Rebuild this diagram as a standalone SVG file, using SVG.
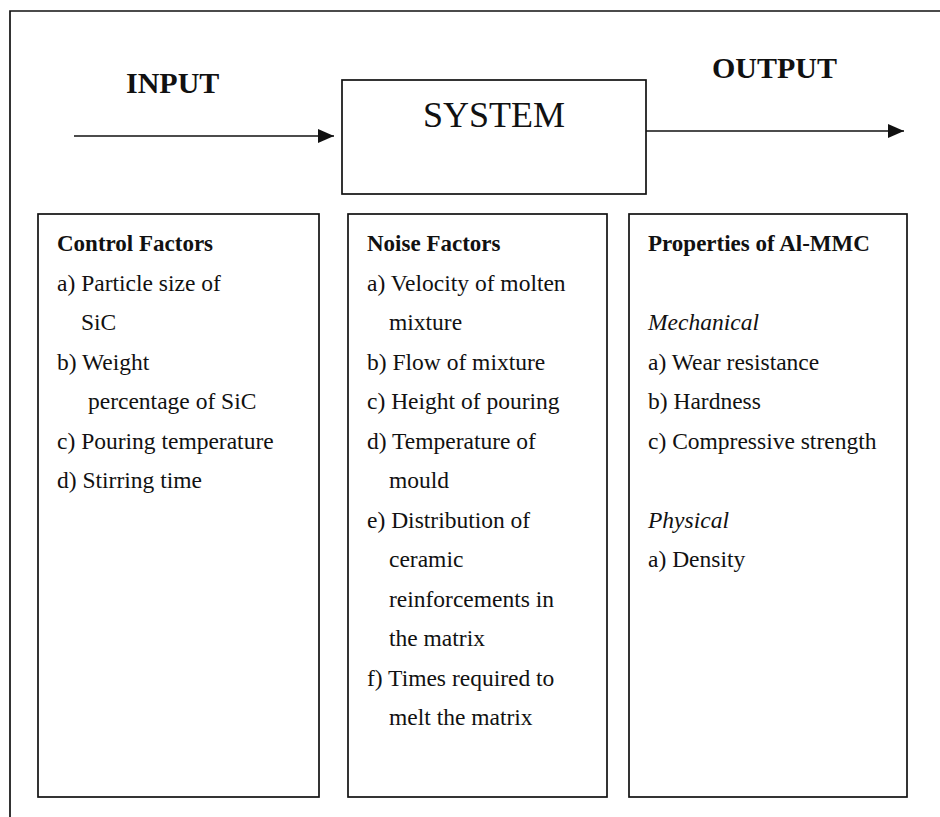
<svg xmlns="http://www.w3.org/2000/svg" width="940" height="817" viewBox="0 0 940 817">
<style>
  .ln { stroke: #111; stroke-width: 1.7; fill: none; }
  .bx { stroke: #111; stroke-width: 1.7; fill: #fff; }
  text { font-family: "Liberation Serif", "Times New Roman", serif; fill: #111; }
  .t { font-size: 23.5px; }
  .h { font-size: 23px; font-weight: bold; }
  .i { font-size: 23.5px; font-style: italic; }
  .big { font-size: 30px; font-weight: bold; }
  .sys { font-size: 36px; }
</style>
<defs>
  <marker id="arr" markerWidth="16" markerHeight="14" refX="16" refY="7" orient="auto" markerUnits="userSpaceOnUse">
    <path d="M0,0 L16,7 L0,14 Z" fill="#111"/>
  </marker>
</defs>
<rect width="940" height="817" fill="#fff"/>
<g id="frame">
  <path class="ln" d="M10,817 L10,11 L940,11"/>
</g>
<g id="labels">
  <text class="big" x="126" y="93">INPUT</text>
  <text class="big" x="712" y="78">OUTPUT</text>
</g>
<g id="system">
  <rect class="bx" x="342" y="80" width="304" height="114"/>
  <text class="sys" x="494" y="127" text-anchor="middle">SYSTEM</text>
</g>
<g id="connectors">
  <line class="ln" x1="74" y1="136" x2="334" y2="136" marker-end="url(#arr)"/>
  <line class="ln" x1="646" y1="131" x2="904" y2="131" marker-end="url(#arr)"/>
</g>
<g id="control">
  <rect class="bx" x="38" y="214" width="281" height="583"/>
  <text class="h" x="57" y="251">Control Factors</text>
  <text class="t" x="57" y="291">a) Particle size of</text>
  <text class="t" x="81" y="330">SiC</text>
  <text class="t" x="57" y="370">b) Weight</text>
  <text class="t" x="88" y="409">percentage of SiC</text>
  <text class="t" x="57" y="449">c) Pouring temperature</text>
  <text class="t" x="57" y="488">d) Stirring time</text>
</g>
<g id="noise">
  <rect class="bx" x="348" y="214" width="259" height="583"/>
  <text class="h" x="367" y="251">Noise Factors</text>
  <text class="t" x="367" y="291">a) Velocity of molten</text>
  <text class="t" x="389" y="330">mixture</text>
  <text class="t" x="367" y="370">b) Flow of mixture</text>
  <text class="t" x="367" y="409">c) Height of pouring</text>
  <text class="t" x="367" y="449">d) Temperature of</text>
  <text class="t" x="389" y="488">mould</text>
  <text class="t" x="367" y="528">e) Distribution of</text>
  <text class="t" x="389" y="567">ceramic</text>
  <text class="t" x="389" y="607">reinforcements in</text>
  <text class="t" x="389" y="646">the matrix</text>
  <text class="t" x="367" y="686">f) Times required to</text>
  <text class="t" x="389" y="725">melt the matrix</text>
</g>
<g id="properties">
  <rect class="bx" x="629" y="214" width="278" height="583"/>
  <text class="h" x="648" y="251">Properties of Al-MMC</text>
  <text class="i" x="648" y="330">Mechanical</text>
  <text class="t" x="648" y="370">a) Wear resistance</text>
  <text class="t" x="648" y="409">b) Hardness</text>
  <text class="t" x="648" y="449">c) Compressive strength</text>
  <text class="i" x="648" y="528">Physical</text>
  <text class="t" x="648" y="567">a) Density</text>
</g>
</svg>
